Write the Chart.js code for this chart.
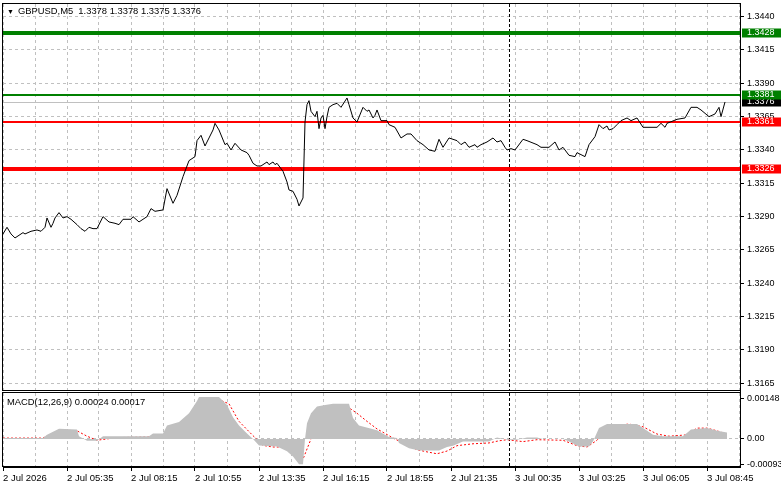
<!DOCTYPE html>
<html lang="en">
<head>
  <meta charset="UTF-8" />
  <title>GBPUSD,M5</title>
  <script src="https://cdn.jsdelivr.net/npm/chart.js"></script>
  <style>
    body { margin: 0; background: #fff; }
    #wrap { position: relative; width: 781px; height: 489px; overflow: hidden; font-family: 'Liberation Sans', Arial, sans-serif; }
    canvas { position: absolute; left: 0; }
    #mainChart { top: 0; }
    #macdChart { top: 392px; }
    .label { position: absolute; font-size: 9.4px; color: #000; white-space: pre; }
    .tri { font-size: 7px; margin-right: 4px; }
  </style>
</head>
<body>
  <div id="wrap">
    <canvas id="mainChart" width="781" height="392"></canvas>
    <canvas id="macdChart" width="781" height="97"></canvas>
    <div class="label" style="left:7px;top:5px"><span class="tri">▼</span>GBPUSD,M5  1.3378 1.3378 1.3375 1.3376</div>
    <div class="label" style="left:7px;top:396px">MACD(12,26,9) 0.00024 0.00017</div>
  </div>

  <script>
    // bar numbers (M5 bars from the left edge) and close prices
    const priceBars = [0, 2, 4, 6, 8, 10, 11, 14, 17, 19, 21, 22, 24, 25, 26, 28, 30, 32, 34, 37,
      39, 41, 43, 45, 47, 50, 53, 56, 58, 60, 64, 65, 68, 72, 74, 76, 80, 82, 85, 87,
      90, 93, 96, 97, 99, 101, 103, 105, 106, 108, 111, 112, 114, 116, 119, 122, 123, 125, 127, 129,
      132, 133, 135, 136, 137, 140, 142, 143, 145, 147, 148, 150, 151, 152, 153, 154, 156, 157, 158, 159,
      160, 161, 162, 163, 165, 167, 169, 172, 173, 175, 177, 180, 182, 183, 185, 186, 187, 189, 192, 193,
      196, 199, 202, 204, 207, 210, 213, 216, 218, 220, 223, 227, 229, 231, 233, 236, 237, 239, 242, 245,
      247, 249, 251, 252, 254, 256, 260, 262, 267, 269, 273, 276, 278, 280, 283, 286, 287, 291, 293, 296,
      298, 300, 302, 303, 305, 307, 309, 312, 314, 317, 320, 323, 327, 329, 331, 332, 337, 341, 344, 347,
      349, 353, 356, 358, 359, 361];
    const priceClose = [1.3277, 1.3282, 1.3277, 1.3274, 1.3276, 1.3278, 1.3277, 1.3279, 1.3280, 1.3279,
      1.3282, 1.3289, 1.3282, 1.3285, 1.3289, 1.3293, 1.3289, 1.3290, 1.3288, 1.3284,
      1.3281, 1.3279, 1.3282, 1.3281, 1.3281, 1.3290, 1.3286, 1.3285, 1.3284, 1.3288,
      1.3288, 1.3290, 1.3286, 1.3290, 1.3296, 1.3294, 1.3295, 1.3311, 1.3300, 1.3306,
      1.3320, 1.3332, 1.3335, 1.3347, 1.3351, 1.3343, 1.3349, 1.3355, 1.3360, 1.3355,
      1.3344, 1.3345, 1.3340, 1.3345, 1.3340, 1.3338, 1.3336, 1.3330, 1.3328, 1.3328,
      1.3331, 1.3329, 1.3331, 1.3329, 1.3330, 1.3324, 1.3316, 1.3310, 1.3309, 1.3303,
      1.3298, 1.3304, 1.3361, 1.3374, 1.3377, 1.3369, 1.3365, 1.3369, 1.3356, 1.3364,
      1.3366, 1.3356, 1.3365, 1.3372, 1.3374, 1.3375, 1.3372, 1.3379, 1.3374, 1.3364,
      1.3361, 1.3372, 1.3369, 1.3370, 1.3364, 1.3366, 1.3370, 1.3362, 1.3362, 1.3359,
      1.3357, 1.3349, 1.3352, 1.3352, 1.3347, 1.3344, 1.3340, 1.3339, 1.3348, 1.3342,
      1.3349, 1.3347, 1.3344, 1.3346, 1.3342, 1.3344, 1.3342, 1.3344, 1.3346, 1.3349,
      1.3346, 1.3347, 1.3342, 1.3340, 1.3341, 1.3340, 1.3348, 1.3347, 1.3344, 1.3342,
      1.3342, 1.3346, 1.3340, 1.3342, 1.3336, 1.3335, 1.3338, 1.3335, 1.3344, 1.3350,
      1.3359, 1.3356, 1.3358, 1.3355, 1.3356, 1.3359, 1.3362, 1.3364, 1.3362, 1.3364,
      1.3357, 1.3357, 1.3357, 1.3360, 1.3357, 1.3360, 1.3363, 1.3364, 1.3372, 1.3372,
      1.3370, 1.3365, 1.3367, 1.3372, 1.3365, 1.3376];

    const histBars = [0, 20, 22, 28, 37, 38, 42, 47, 50, 73, 75, 80, 82, 88, 93, 97, 98, 108, 112, 115,
      118, 122, 125, 128, 137, 142, 145, 148, 150, 151, 152, 154, 157, 161, 165, 173, 175, 178, 187, 193,
      197, 198, 203, 208, 218, 222, 225, 230, 243, 247, 252, 257, 262, 267, 270, 280, 283, 288, 293, 295,
      298, 302, 317, 320, 325, 330, 340, 344, 352, 357, 362];
    const histValues = [0.00003, 0.00003, 0.00015, 0.00038, 0.00035, 0.0001, -0.00007, -0.00007, 0.0001, 0.0001,
      0.0002, 0.0002, 0.0005, 0.00063, 0.00095, 0.0014, 0.00155, 0.00155, 0.00126, 0.0008,
      0.0005, 0.0002, 0.0, -0.00024, -0.00028, -0.00046, -0.00065, -0.00094, -0.00094, 0.0,
      0.00058, 0.00095, 0.0012, 0.00126, 0.0013, 0.0013, 0.00077, 0.0005, 0.00032, 0.00007,
      0.00003, -0.00015, -0.00035, -0.00043, -0.00043, -0.0003, -0.00025, -0.0001, -0.0001, 0.00005,
      -0.00003, -0.00003, 0.00005, 0.00005, 0.0, 0.0, -0.0001, -0.00028, -0.00028, -0.0001,
      0.0004, 0.00055, 0.00055, 0.0004, 0.00015, 0.0001, 0.0001, 0.00035, 0.0004, 0.0003, 0.00024];

    const signalBars = [0, 20, 23, 32, 37, 42, 47, 52, 57, 73, 80, 88, 95, 100, 105, 108, 113, 118, 125, 130,
      135, 142, 147, 150, 154, 158, 163, 172, 177, 182, 187, 193, 195, 200, 207, 212, 217, 222, 227, 235,
      243, 248, 252, 260, 267, 280, 287, 292, 297, 302, 307, 313, 320, 327, 333, 342, 347, 352, 357, 362];
    const signalValues = [0.00003, 0.00003, 0.00015, 0.00032, 0.0003, 0.0001, -0.00005, 0.0, 0.00005, 0.00007,
      0.00014, 0.00045, 0.0008, 0.0013, 0.0015, 0.00145, 0.0013, 0.00065, 0.00012, -0.00024,
      -0.0003, -0.0003, -0.0005, -0.00075, 0.0, 0.0008, 0.0012, 0.0012, 0.00095, 0.00065,
      0.00037, 0.00012, 0.00003, -0.00015, -0.0004, -0.00048, -0.00055, -0.00045, -0.00025, -0.00018,
      -0.00015, -0.00007, -0.00003, -0.0001, -0.00003, -0.00005, -0.00025, -0.0003, -0.00005, 0.0004,
      0.0005, 0.00055, 0.00045, 0.00018, 0.0001, 0.00015, 0.0004, 0.0004, 0.0003, 0.00017];

    const priceTicks = [1.3165, 1.3190, 1.3215, 1.3240, 1.3265, 1.3290, 1.3315, 1.3340, 1.3365, 1.3390, 1.3415, 1.3440];
    const macdTicks = [-0.00093, 0, 0.00148];
    const macdTickLabels = ['-0.00093', '0.00', '0.00148'];
    const timeGridBars = [0, 16, 32, 48, 64, 80, 96, 112, 128, 144, 160, 176, 192, 208, 224, 240,
      256, 272, 288, 304, 320, 336, 352, 368];
    const timeLabelBars = [0, 32, 64, 96, 128, 160, 192, 224, 256, 288, 320, 352];
    const timeLabels = ['2 Jul 2026', '2 Jul 05:35', '2 Jul 08:15', '2 Jul 10:55', '2 Jul 13:35', '2 Jul 16:15',
      '2 Jul 18:55', '2 Jul 21:35', '3 Jul 00:35', '3 Jul 03:25', '3 Jul 06:05', '3 Jul 08:45'];
    const levelPrices = [1.3428, 1.3381, 1.3361, 1.3326];
    const bidPrice = 1.3376;
    const daySeparatorBar = 253;

    const levelStyles = [
      { color: '#008000', width: 4 },
      { color: '#008000', width: 2 },
      { color: '#ff0000', width: 2 },
      { color: '#ff0000', width: 4 }
    ];

    Chart.defaults.font.family = "'Liberation Sans', Arial, sans-serif";
    Chart.defaults.font.size = 9;
    Chart.defaults.color = '#000';

    const pts = (xs, ys) => xs.map((x, i) => ({ x, y: ys[i] }));

    // black box round the plot area
    const framePlugin = {
      id: 'frame',
      afterDraw(chart) {
        const { ctx, chartArea: a } = chart;
        ctx.save();
        ctx.strokeStyle = '#000';
        ctx.lineWidth = 1;
        ctx.strokeRect(a.left - 0.5, a.top - 0.5, a.right - a.left + 1, a.bottom - a.top);
        ctx.restore();
      }
    };

    const separatorPlugin = {
      id: 'separator',
      beforeDatasetsDraw(chart) {
        const { ctx, chartArea: a, scales } = chart;
        const x = Math.round(scales.x.getPixelForValue(daySeparatorBar)) + 0.5;
        ctx.save();
        ctx.strokeStyle = '#000';
        ctx.lineWidth = 1;
        ctx.setLineDash([3, 2]);
        ctx.beginPath();
        ctx.moveTo(x, a.top);
        ctx.lineTo(x, a.bottom);
        ctx.stroke();
        ctx.restore();
      }
    };

    const levelsPlugin = {
      id: 'levels',
      beforeDatasetsDraw(chart) {
        const { ctx, chartArea: a, scales } = chart;
        ctx.save();
        const by = Math.round(scales.y.getPixelForValue(bidPrice)) + 0.5;
        ctx.strokeStyle = '#c0c0c0';
        ctx.lineWidth = 1;
        ctx.beginPath();
        ctx.moveTo(a.left, by);
        ctx.lineTo(a.right, by);
        ctx.stroke();
        levelPrices.forEach((p, i) => {
          const y = Math.round(scales.y.getPixelForValue(p));
          const st = levelStyles[i];
          ctx.fillStyle = st.color;
          ctx.fillRect(a.left, y - st.width / 2, a.right - a.left, st.width);
        });
        ctx.restore();
      },
      afterDraw(chart) {
        const { ctx, chartArea: a, scales, width } = chart;
        const tag = (p, color) => {
          const y = Math.round(scales.y.getPixelForValue(p));
          ctx.fillStyle = color;
          ctx.fillRect(a.right + 2, y - 4.5, width - a.right - 2, 9);
          ctx.fillStyle = '#fff';
          ctx.textBaseline = 'middle';
          ctx.textAlign = 'left';
          ctx.fillText(p.toFixed(4), a.right + 7, y);
        };
        ctx.save();
        ctx.font = "9px 'Liberation Sans', Arial, sans-serif";
        tag(bidPrice, '#000');
        levelPrices.forEach((p, i) => tag(p, levelStyles[i].color));
        ctx.restore();
      }
    };

    const xBase = (showLabels) => ({
      type: 'linear',
      min: 0,
      max: 368.5,
      afterBuildTicks: s => { s.ticks = timeGridBars.map(v => ({ value: v })); },
      afterFit: s => { s.height = showLabels ? 22 : 0; s.paddingLeft = 0; s.paddingRight = 0; },
      ticks: {
        display: showLabels,
        autoSkip: false,
        maxRotation: 0,
        minRotation: 0,
        align: 'start',
        padding: 2,
        font: { size: 9.5 },
        callback: v => {
          const i = timeLabelBars.indexOf(v);
          return i >= 0 ? timeLabels[i] : '';
        }
      },
      grid: {
        color: '#c0c0c0',
        drawTicks: showLabels,
        tickLength: 4,
        tickColor: c => (c.tick && timeLabelBars.indexOf(c.tick.value) >= 0) ? '#000' : 'rgba(0,0,0,0)'
      },
      border: { display: showLabels, color: '#000', dash: [3, 3] }
    });

    new Chart(document.getElementById('mainChart'), {
      type: 'line',
      data: {
        datasets: [{
          data: pts(priceBars, priceClose),
          borderColor: '#000',
          borderWidth: 1,
          pointRadius: 0,
          tension: 0
        }]
      },
      options: {
        responsive: false,
        animation: false,
        devicePixelRatio: 1,
        events: [],
        layout: { padding: { left: 3, top: 4, right: 0, bottom: 1 } },
        plugins: { legend: { display: false }, tooltip: { enabled: false } },
        scales: {
          x: xBase(false),
          y: {
            position: 'right',
            min: 1.31592,
            max: 1.34495,
            afterBuildTicks: s => { s.ticks = priceTicks.map(v => ({ value: v })); },
            afterFit: s => { s.width = 41; s.paddingTop = 0; s.paddingBottom = 0; },
            ticks: { autoSkip: false, padding: 3, callback: v => v.toFixed(4) },
            grid: { color: '#c0c0c0', tickColor: '#000', tickLength: 4 },
            border: { color: '#000', dash: [3, 3] }
          }
        }
      },
      plugins: [separatorPlugin, levelsPlugin, framePlugin]
    });

    new Chart(document.getElementById('macdChart'), {
      type: 'line',
      data: {
        datasets: [{
          data: pts(histBars, histValues),
          borderWidth: 0,
          borderColor: 'rgba(0,0,0,0)',
          backgroundColor: '#c0c0c0',
          fill: 'origin',
          pointRadius: 0,
          tension: 0
        }, {
          data: pts(signalBars, signalValues),
          borderColor: '#ff0000',
          borderWidth: 1,
          borderDash: [2, 2],
          pointRadius: 0,
          tension: 0,
          fill: false
        }]
      },
      options: {
        responsive: false,
        animation: false,
        devicePixelRatio: 1,
        events: [],
        layout: { padding: { left: 3, top: 1, right: 0, bottom: 0 } },
        plugins: { legend: { display: false }, tooltip: { enabled: false } },
        scales: {
          x: xBase(true),
          y: {
            position: 'right',
            min: -0.00104,
            max: 0.0017,
            afterBuildTicks: s => { s.ticks = macdTicks.map(v => ({ value: v })); },
            afterFit: s => { s.width = 41; s.paddingTop = 0; s.paddingBottom = 0; },
            ticks: { autoSkip: false, padding: 3, callback: v => macdTickLabels[macdTicks.indexOf(v)] },
            grid: {
              color: c => (c.tick && c.tick.value === 0) ? '#c0c0c0' : 'rgba(0,0,0,0)',
              tickColor: '#000',
              tickLength: 4
            },
            border: { color: '#000', dash: [3, 3] }
          }
        }
      },
      plugins: [separatorPlugin, framePlugin]
    });
  </script>
</body>
</html>
